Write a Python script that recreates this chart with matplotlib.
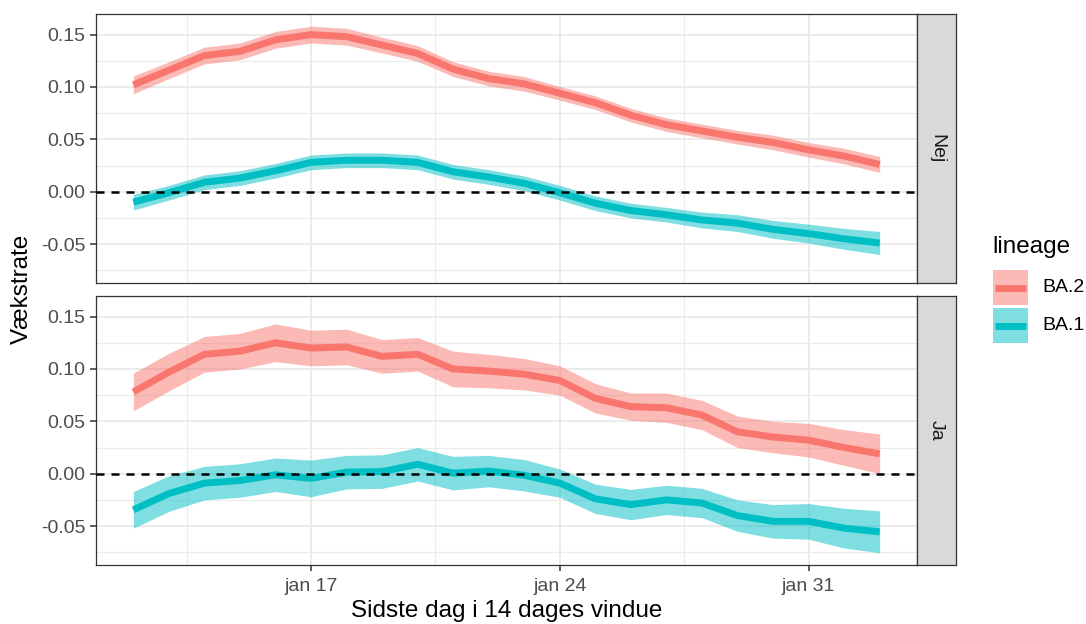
import matplotlib
matplotlib.use("Agg")
import matplotlib.pyplot as plt
import matplotlib.dates as mdates
from matplotlib.patches import Rectangle
import numpy as np
import pandas as pd

plt.rcParams['font.family'] = ['Liberation Sans', 'DejaVu Sans']
plt.rcParams['axes.unicode_minus'] = False

# data
dates = pd.date_range("2022-01-12", "2022-02-02", freq="D")
panels = ["Nej", "Ja"]
lineages = ["BA.2", "BA.1"]
colors = {"BA.2": "#F8766D", "BA.1": "#00BFC4"}

nej_ba2 = [0.102, 0.116, 0.130, 0.134, 0.145, 0.150, 0.148, 0.140, 0.132, 0.117, 0.108,
           0.103, 0.094, 0.085, 0.073, 0.064, 0.058, 0.052, 0.047, 0.040, 0.034, 0.026]
nej_ba2_hw = [0.0085, 0.008, 0.008, 0.008, 0.008, 0.008, 0.008, 0.0075, 0.0075, 0.007, 0.007,
              0.007, 0.0065, 0.0065, 0.0065, 0.0065, 0.0065, 0.0065, 0.007, 0.007, 0.0075, 0.0075]
nej_ba1 = [-0.010, -0.001, 0.009, 0.013, 0.020, 0.028, 0.030, 0.030, 0.028, 0.019, 0.014,
           0.008, -0.001, -0.011, -0.018, -0.022, -0.027, -0.030, -0.036, -0.040, -0.045, -0.049]
nej_ba1_hw = [0.0075, 0.007, 0.007, 0.007, 0.007, 0.007, 0.007, 0.007, 0.007, 0.007, 0.007,
              0.007, 0.007, 0.007, 0.007, 0.007, 0.0075, 0.008, 0.0085, 0.009, 0.010, 0.011]
ja_ba2 = [0.078, 0.097, 0.114, 0.117, 0.125, 0.120, 0.121, 0.112, 0.114, 0.100, 0.098,
          0.095, 0.089, 0.072, 0.064, 0.063, 0.056, 0.040, 0.035, 0.032, 0.025, 0.019]
ja_ba2_hw = [0.018, 0.018, 0.017, 0.017, 0.018, 0.017, 0.017, 0.016, 0.016, 0.017, 0.016,
             0.015, 0.014, 0.014, 0.013, 0.014, 0.014, 0.015, 0.015, 0.016, 0.017, 0.019]
ja_ba1 = [-0.0345, -0.019, -0.009, -0.0065, -0.001, -0.0045, 0.0015, 0.002, 0.009, 0.0005, 0.0025,
          -0.0015, -0.009, -0.024, -0.0295, -0.025, -0.028, -0.040, -0.0455, -0.0455, -0.052, -0.0555]
ja_ba1_hw = [0.0175, 0.017, 0.016, 0.016, 0.016, 0.0175, 0.016, 0.016, 0.016, 0.016, 0.015,
             0.015, 0.0135, 0.014, 0.0145, 0.014, 0.014, 0.015, 0.016, 0.017, 0.019, 0.020]

series = {
    ("Nej", "BA.2"): (nej_ba2, nej_ba2_hw),
    ("Nej", "BA.1"): (nej_ba1, nej_ba1_hw),
    ("Ja", "BA.2"): (ja_ba2, ja_ba2_hw),
    ("Ja", "BA.1"): (ja_ba1, ja_ba1_hw),
}

tick_dates = pd.to_datetime(["2022-01-17", "2022-01-24", "2022-01-31"])
tick_labels = ["jan 17", "jan 24", "jan 31"]
y_ticks = [-0.05, 0.0, 0.05, 0.10, 0.15]

# shared limits, ggplot style 5% expansion
lo = min(min(np.array(v) - np.array(h)) for v, h in series.values())
hi = max(max(np.array(v) + np.array(h)) for v, h in series.values())
ylim = (lo - 0.05 * (hi - lo), hi + 0.05 * (hi - lo))
xnum = mdates.date2num(dates)
xpad = 0.05 * (xnum[-1] - xnum[0])
xlim = (xnum[0] - xpad, xnum[-1] + xpad)

fig = plt.figure(figsize=(10.86, 6.24), dpi=100)
W, H = 1086, 624
left, right = 96 / W, 917 / W
tops = [14, 296]
ph = 269

grey = "#333333"
for i, panel in enumerate(panels):
    bottom = 1 - (tops[i] + ph) / H
    ax = fig.add_axes([left, bottom, right - left, ph / H])
    for lin in lineages:
        v, h = series[(panel, lin)]
        v, h = np.array(v), np.array(h)
        ax.fill_between(dates, v - h, v + h, color=colors[lin], alpha=0.5, lw=0, zorder=2)
    for lin in lineages:
        v, h = series[(panel, lin)]
        ax.plot(dates, v, color=colors[lin], lw=5, solid_capstyle="butt",
                solid_joinstyle="round", zorder=3)
    ax.axhline(0, color="black", lw=1.8, ls=(0, (3.2, 2.8)), zorder=4)

    ax.set_xlim(xlim)
    ax.set_xticks(tick_dates)
    ax.set_xticks(tick_dates - pd.Timedelta(days=3.5), minor=True)
    ax.set_yticks(y_ticks)
    ax.set_yticklabels([f"{t:.2f}" for t in y_ticks])
    ax.set_yticks([t + 0.025 for t in [-0.10] + y_ticks], minor=True)
    ax.set_ylim(ylim)
    ax.grid(which="major", color="#EBEBEB", lw=1.4, zorder=0)
    ax.grid(which="minor", color="#EBEBEB", lw=0.8, zorder=0)
    ax.set_axisbelow(True)
    ax.tick_params(which="minor", length=0)
    ax.tick_params(which="major", length=4.5, width=1.1, color=grey,
                   labelcolor="#4D4D4D", labelsize=14, pad=3)
    if i == 0:
        ax.tick_params(axis="x", which="major", length=0, labelbottom=False)
    else:
        ax.set_xticklabels(tick_labels)
        ax.tick_params(axis="x", pad=5)
    for s in ax.spines.values():
        s.set_color(grey)
        s.set_linewidth(0.9)

    sax = fig.add_axes([right, bottom, 39 / W, ph / H])
    sax.set_facecolor("#D9D9D9")
    sax.set_xticks([])
    sax.set_yticks([])
    for s in sax.spines.values():
        s.set_color(grey)
        s.set_linewidth(0.9)
    sax.text(0.5, 0.5, panel, rotation=-90, ha="center", va="center",
             fontsize=14, color="#1A1A1A", transform=sax.transAxes)

fig.text(22 / W, 1 - 289 / H, "Vækstrate", rotation=90, ha="center", va="center",
         fontsize=17.5, color="black")
fig.text((left + right) / 2, 1 - 611 / H, "Sidste dag i 14 dages vindue",
         ha="center", va="center", fontsize=17.5, color="black")

# legend drawn in pixel coordinates, ggplot style keys (ribbon square + line)
lax = fig.add_axes([0, 0, 1, 1])
lax.set_xlim(0, W)
lax.set_ylim(H, 0)
lax.axis("off")
lax.text(992, 247, "lineage", ha="left", va="center", fontsize=17.5, color="black")
for k, lin in enumerate(lineages):
    top = 270 + k * 38
    lax.add_patch(Rectangle((993, top), 35, 35, facecolor=colors[lin], alpha=0.5, lw=0))
    lax.plot([995, 1026], [top + 17.5, top + 17.5], color=colors[lin], lw=5,
             solid_capstyle="butt")
    lax.text(1042, top + 17.5, lin, ha="left", va="center", fontsize=14, color="black")

fig.savefig("out.png", dpi=100)
